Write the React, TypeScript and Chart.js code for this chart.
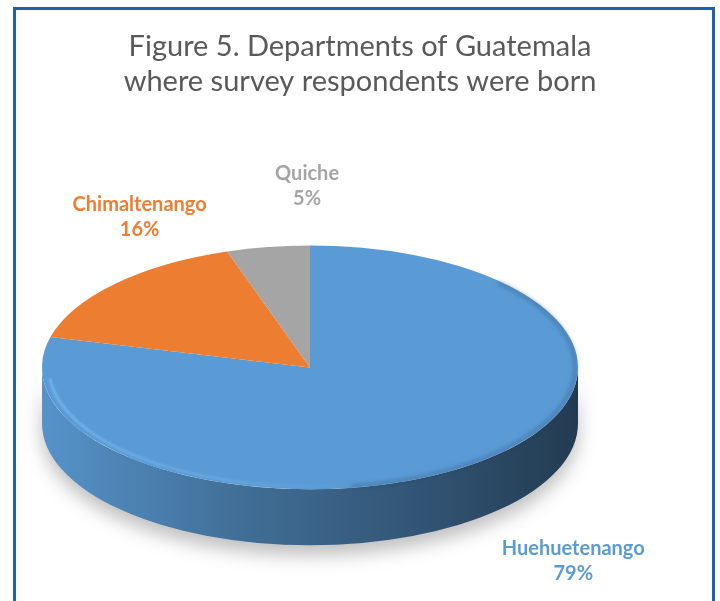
import React, { useEffect, useRef } from "react";
import { Chart, registerables } from "chart.js";

Chart.register(...registerables);

const categories = ["Huehuetenango", "Chimaltenango", "Quiche"];
const values = [79, 16, 5];
const sliceColors = ["#5B9BD5", "#ED7D31", "#A5A5A5"];
const titleLines = ["Figure 5. Departments of Guatemala", "where survey respondents were born"];

const FONT = "Lato, 'Open Sans', sans-serif";

function shade(hex: string, f: number) {
  const n = parseInt(hex.slice(1), 16);
  const r = Math.round(((n >> 16) & 255) * f);
  const g = Math.round(((n >> 8) & 255) * f);
  const b = Math.round((n & 255) * f);
  return `rgb(${r},${g},${b})`;
}

function applyProj(ctx: CanvasRenderingContext2D, p: any) {
  ctx.translate(p.tx, p.ty);
  ctx.scale(p.sx, p.sy);
  ctx.translate(-p.cx, -p.cy);
}

function getProj(chart: any, opts: any) {
  const arcs = chart.getDatasetMeta(0).data;
  if (!arcs.length) return null;
  const a0: any = arcs[0];
  const cx = a0.x, cy = a0.y, R = a0.outerRadius;
  const rx = chart.chartArea.width / 2;
  const sx = rx / R;
  const sy = sx * opts.tilt;
  return { cx, cy, R, sx, sy, tx: cx + opts.offsetX, ty: cy + opts.offsetY, rx, ry: R * sy };
}

const pie3d = {
  id: "pie3d",
  beforeDatasetsDraw(chart: any, _args: any, opts: any) {
    const p = getProj(chart, opts);
    if (!p) return;
    const ctx: CanvasRenderingContext2D = chart.ctx;
    const arcs = chart.getDatasetMeta(0).data;
    const D = opts.depth / p.sy;
    arcs.forEach((arc: any, i: number) => {
      const s = arc.startAngle, e = arc.endAngle;
      for (const k of [-2 * Math.PI, 0, 2 * Math.PI]) {
        const lo = Math.max(s, k), hi = Math.min(e, k + Math.PI);
        if (lo >= hi) continue;
        ctx.save();
        applyProj(ctx, p);
        ctx.beginPath();
        ctx.arc(p.cx, p.cy, p.R, lo, hi, false);
        ctx.arc(p.cx, p.cy + D, p.R, hi, lo, true);
        ctx.closePath();
        ctx.restore();
        ctx.save();
        const base = sliceColors[i];
        const g = ctx.createLinearGradient(p.tx - p.rx, 0, p.tx + p.rx, 0);
        g.addColorStop(0, shade(base, 0.95));
        g.addColorStop(0.35, shade(base, 0.72));
        g.addColorStop(0.7, shade(base, 0.55));
        g.addColorStop(1, shade(base, 0.38));
        ctx.fillStyle = g;
        ctx.shadowColor = "rgba(0,0,0,0.25)";
        ctx.shadowBlur = 18;
        ctx.shadowOffsetY = 10;
        ctx.fill();
        ctx.restore();
      }
    });
    ctx.save();
    applyProj(ctx, p);
  },
  afterDatasetsDraw(chart: any, _args: any, opts: any) {
    const p = getProj(chart, opts);
    if (!p) return;
    const ctx: CanvasRenderingContext2D = chart.ctx;
    ctx.restore();
    // soft bevel highlight on the front-left edge
    ctx.save();
    applyProj(ctx, p);
    ctx.beginPath();
    ctx.arc(p.cx, p.cy, p.R * 0.975, Math.PI * 0.35, Math.PI * 0.97, false);
    ctx.restore();
    ctx.save();
    const hg = ctx.createLinearGradient(p.tx - p.rx, 0, p.tx + p.rx * 0.2, 0);
    hg.addColorStop(0, "rgba(140,200,255,0.6)");
    hg.addColorStop(1, "rgba(140,200,255,0)");
    ctx.strokeStyle = hg;
    ctx.lineWidth = 2.5;
    ctx.filter = "blur(1px)";
    ctx.stroke();
    ctx.restore();
    // darker rim on the right edge
    ctx.save();
    applyProj(ctx, p);
    ctx.beginPath();
    ctx.arc(p.cx, p.cy, p.R * 0.99, -Math.PI * 0.25, Math.PI * 0.45, false);
    ctx.restore();
    ctx.save();
    ctx.strokeStyle = "rgba(30,60,100,0.3)";
    ctx.lineWidth = 4;
    ctx.filter = "blur(2px)";
    ctx.stroke();
    ctx.restore();
  },
  afterDraw(chart: any, _args: any, opts: any) {
    const p = getProj(chart, opts);
    if (!p) return;
    const ctx: CanvasRenderingContext2D = chart.ctx;
    const arcs = chart.getDatasetMeta(0).data;
    const data = chart.data.datasets[0].data as number[];
    const total = data.reduce((a, b) => a + b, 0);
    arcs.forEach((arc: any, i: number) => {
      const mid = (arc.startAngle + arc.endAngle) / 2;
      const ex = p.tx + p.rx * Math.cos(mid);
      const ey = p.ty + p.ry * Math.sin(mid);
      const off = opts.labelOffsets[i];
      const x = ex + off[0], y = ey + off[1];
      ctx.save();
      ctx.fillStyle = sliceColors[i];
      ctx.font = `bold 20px ${FONT}`;
      ctx.textAlign = "center";
      ctx.textBaseline = "alphabetic";
      ctx.fillText(String(chart.data.labels[i]), x, y - 4);
      ctx.fillText(`${Math.round((data[i] / total) * 100)}%`, x, y + 21);
      ctx.restore();
    });
  },
};

export default function App() {
  const ref = useRef<HTMLCanvasElement | null>(null);
  useEffect(() => {
    if (!ref.current) return;
    const chart = new Chart(ref.current, {
      type: "pie",
      data: {
        labels: categories,
        datasets: [
          {
            data: values,
            backgroundColor: sliceColors,
            borderWidth: 0,
          },
        ],
      },
      options: {
        responsive: false,
        animation: false,
        layout: { padding: { left: 92, right: 92, top: 0, bottom: 0 } },
        plugins: {
          legend: { display: false },
          tooltip: { enabled: false },
          title: {
            display: true,
            text: titleLines,
            color: "#595959",
            font: { family: FONT, size: 29, weight: "normal", lineHeight: 1.22 },
            padding: { top: 29, bottom: 20 },
          },
          pie3d: {
            tilt: 0.455,
            depth: 56,
            offsetX: -50,
            offsetY: 7,
            labelOffsets: [
              [99, 95],
              [25, -69],
              [39, -63],
            ],
          },
        } as any,
      },
      plugins: [pie3d as any],
    });
    return () => chart.destroy();
  }, []);
  return (
    <div style={{ position: "absolute", left: 0, top: 0, width: 720, height: 601, overflow: "hidden", background: "#fff" }}>
      <canvas ref={ref} width={720} height={601} style={{ position: "absolute", left: 0, top: 0 }} />
      <div
        style={{
          position: "absolute",
          left: 13,
          top: 7,
          width: 696,
          height: 620,
          border: "3px solid #1F62AC",
          pointerEvents: "none",
        }}
      />
    </div>
  );
}
